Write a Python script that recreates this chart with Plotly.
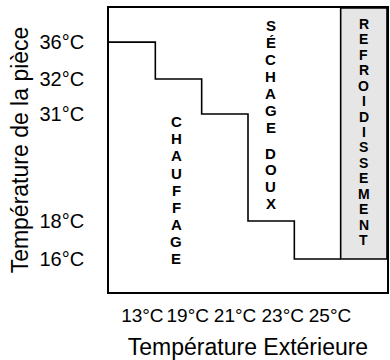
import plotly.graph_objects as go

# --- data ---
outdoor_labels = ["13°C", "19°C", "21°C", "23°C", "25°C"]
room_labels = ["36°C", "32°C", "31°C", "18°C", "16°C"]
room_temps = [36, 32, 31, 18, 16]
# vertical position of each room-temperature level on the (non-linear) chart scale, 0-100
room_level = {36: 88.0, 32: 75.0, 31: 62.7, 18: 25.0, 16: 11.6}
zone_steps = [0, 1, 2, 3, 4, 5]          # step index along the outdoor axis
step_temps = [36, 32, 31, 18, 16, 16]
cooling_zone = (5, 6)                    # step index range of the cooling band
zone_texts = ["CHAUFFAGE", "SÉCHAGE", "DOUX", "REFROIDISSEMENT"]

font = "Liberation Sans, Arial, sans-serif"

fig = go.Figure()

fig.add_trace(go.Scatter(
    x=zone_steps,
    y=[room_level[t] for t in step_temps],
    mode="lines",
    line=dict(shape="hv", color="black", width=1.6),
    hoverinfo="skip",
    showlegend=False,
))

fig.add_shape(type="rect", xref="x", yref="y",
              x0=cooling_zone[0], x1=cooling_zone[1],
              y0=room_level[16], y1=100,
              fillcolor="#e6e6e6", line=dict(color="black", width=1.6),
              layer="below")

PX_Y = 100 / 284.0
def add_vertical(text, x, y_first_px, spacing_px, size):
    for i, ch in enumerate(text):
        py = y_first_px + i * spacing_px
        fig.add_annotation(x=x, y=(292 - py) * PX_Y, xref="x", yref="y",
                           text=f"<b>{ch}</b>", showarrow=False,
                           font=dict(family=font, size=size, color="black"))

add_vertical(zone_texts[0], 1.45, 121.7, 17.1, 15)
add_vertical(zone_texts[1], 3.49, 25.0, 17.0, 15)
add_vertical(zone_texts[2], 3.49, 153.0, 16.7, 15)
add_vertical(zone_texts[3], 5.50, 24.0, 15.43, 14)

fig.update_layout(
    width=390, height=360,
    margin=dict(l=109, r=3, t=8, b=68),
    paper_bgcolor="white", plot_bgcolor="white",
    font=dict(family=font, color="black"),
    xaxis=dict(range=[0, 6], showgrid=False, zeroline=False, automargin=False,
               showline=True, mirror=True, linecolor="black", linewidth=1.6,
               tickmode="array", tickvals=[0.72, 1.7, 2.72, 3.75, 4.77],
               ticktext=outdoor_labels, ticks="", ticklabelstandoff=5,
               tickangle=0, tickfont=dict(size=19),
               title=dict(text="Température Extérieure", font=dict(size=23), standoff=14)),
    yaxis=dict(range=[0, 100], showgrid=False, zeroline=False, automargin=False,
               showline=True, mirror=True, linecolor="black", linewidth=1.6,
               tickmode="array", tickvals=[room_level[t] for t in room_temps],
               ticktext=room_labels, ticks="", ticklabelstandoff=19,
               tickfont=dict(size=20),
               title=dict(text="Température de la pièce", font=dict(size=23), standoff=4)),
)

fig.write_html("out.html")
